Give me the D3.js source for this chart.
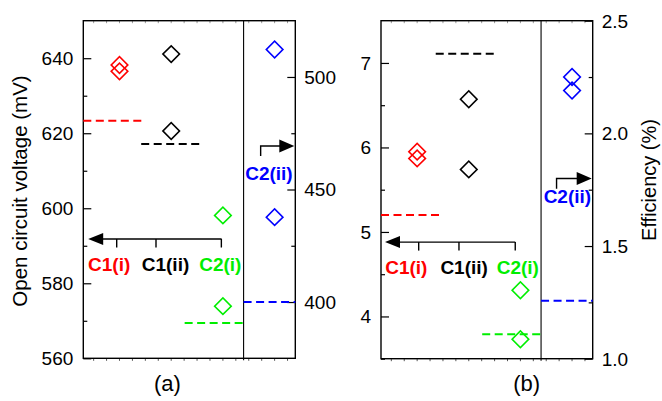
<!DOCTYPE html>
<html>
<head>
<meta charset="utf-8">
<script src="https://cdn.jsdelivr.net/npm/d3@7"></script>
<style>
  html, body { margin: 0; padding: 0; background: #fff; }
  svg { display: block; }
  text { font-family: "Liberation Sans", Arial, sans-serif; }
</style>
</head>
<body>
<svg id="chart" width="662" height="401"></svg>
<script>
const categories = ["C1(i)", "C1(ii)", "C2(i)", "C2(ii)"];
const colors = ["#ff0000", "#000000", "#00ee00", "#0000ff"];

// (a) open circuit voltage, two devices per group (mV)
const vocC1i = [638.2, 636.5];
const vocC1ii = [641.1, 620.6];
const vocC2i = [598.1, 573.9];
const vocC2ii = [512.2, 437.7];       // right axis
// (a) reference levels (dashed), one per group
const vocRef = [623.3, 617.1, 569.4, 400];

// (b) efficiency, two devices per group (%)
const effC1i = [5.95, 5.87];
const effC1ii = [6.57, 5.74];
const effC2i = [4.31, 3.73];
const effC2ii = [2.25, 2.19];         // right axis
// (b) reference levels (dashed)
const effRef = [5.2, 7.11, 3.79, 1.257];

// Axis ticks
const vocLeftTicks = [560, 580, 600, 620, 640];
const vocRightTicks = [400, 450, 500];
const effLeftTicks = [4, 5, 6, 7];
const effRightTicks = ["1.0", "1.5", "2.0", "2.5"];

const svg = d3.select("#chart");
const FONT = 19;

function drawPanel(cfg) {
  const g = svg.append("g");
  const x = d3.scaleLinear().domain([0.3, 4.4]).range([cfg.left, cfg.right]);
  const yL = d3.scaleLinear().domain(cfg.leftDomain).range([cfg.bottom, cfg.top]);
  const yR = d3.scaleLinear().domain(cfg.rightDomain).range([cfg.bottom, cfg.top]);

  // minor ticks along top and bottom edges
  const xMinor = d3.range(0.5, 4.3, 0.25);
  g.selectAll(".xb").data(xMinor).join("line")
    .attr("x1", d => x(d)).attr("x2", d => x(d))
    .attr("y1", cfg.bottom).attr("y2", cfg.bottom + 2.5)
    .attr("stroke", "#555").attr("stroke-width", 1);
  g.selectAll(".xt").data(xMinor).join("line")
    .attr("x1", d => x(d)).attr("x2", d => x(d))
    .attr("y1", cfg.top).attr("y2", cfg.top + 2.5)
    .attr("stroke", "#999").attr("stroke-width", 1);

  // left axis (ticks inward)
  g.append("g").attr("transform", `translate(${cfg.left},0)`)
    .call(d3.axisRight(yL).tickValues(cfg.leftMajor).tickSize(8).tickFormat(""))
    .call(a => a.select(".domain").remove())
    .call(a => a.selectAll("line").attr("stroke", "#000").attr("stroke-width", 1.2));
  g.append("g").attr("transform", `translate(${cfg.left},0)`)
    .call(d3.axisRight(yL).tickValues(cfg.leftMinor).tickSize(4).tickFormat(""))
    .call(a => a.select(".domain").remove())
    .call(a => a.selectAll("line").attr("stroke", "#000").attr("stroke-width", 1.2));
  g.selectAll(".ll").data(cfg.leftMajor).join("text")
    .attr("x", cfg.left - 10).attr("y", d => yL(d))
    .attr("dy", "0.36em").attr("text-anchor", "end")
    .attr("font-size", FONT).text(d => d);

  // right axis (ticks inward)
  g.append("g").attr("transform", `translate(${cfg.right},0)`)
    .call(d3.axisLeft(yR).tickValues(cfg.rightMajor).tickSize(8).tickFormat(""))
    .call(a => a.select(".domain").remove())
    .call(a => a.selectAll("line").attr("stroke", "#000").attr("stroke-width", 1.2));
  g.append("g").attr("transform", `translate(${cfg.right},0)`)
    .call(d3.axisLeft(yR).tickValues(cfg.rightMinor).tickSize(4).tickFormat(""))
    .call(a => a.select(".domain").remove())
    .call(a => a.selectAll("line").attr("stroke", "#000").attr("stroke-width", 1.2));
  g.selectAll(".rl").data(cfg.rightLabels).join("text")
    .attr("x", cfg.right + 9).attr("y", d => yR(+d))
    .attr("dy", "0.36em").attr("text-anchor", "start")
    .attr("font-size", FONT).text(d => d);

  // frame and divider
  g.append("rect")
    .attr("x", cfg.left).attr("y", cfg.top)
    .attr("width", cfg.right - cfg.left).attr("height", cfg.bottom - cfg.top)
    .attr("fill", "none").attr("stroke", "#000").attr("stroke-width", 1.4);
  g.append("line")
    .attr("x1", x(3.4)).attr("x2", x(3.4))
    .attr("y1", cfg.top).attr("y2", cfg.bottom + 2)
    .attr("stroke", "#000").attr("stroke-width", 1.1);

  // dashed reference levels
  const refs = cfg.ref.map((v, i) => ({ v, i, x0: cfg.refX[i][0], x1: cfg.refX[i][1] }));
  g.selectAll(".ref").data(refs).join("line")
    .attr("x1", d => x(d.x0)).attr("x2", d => x(d.x1))
    .attr("y1", d => (d.i === 3 ? yR : yL)(d.v))
    .attr("y2", d => (d.i === 3 ? yR : yL)(d.v))
    .attr("stroke", d => colors[d.i]).attr("stroke-width", 2)
    .attr("stroke-dasharray", "8,4.5");

  // diamonds
  const pts = [];
  cfg.series.forEach((vals, i) => vals.forEach(v => pts.push({ i, v })));
  const sym = d3.symbol().type(d3.symbolSquare).size(138);
  g.selectAll(".pt").data(pts).join("path")
    .attr("d", sym)
    .attr("transform", d => `translate(${x(d.i + 1)},${(d.i === 3 ? yR : yL)(d.v)}) rotate(45)`)
    .attr("fill", "none").attr("stroke", d => colors[d.i]).attr("stroke-width", 1.6);

  // left-pointing bracket arrow for groups on the left axis
  const ay = yL(cfg.arrowY);
  g.append("line")
    .attr("x1", x(cfg.arrowX[1])).attr("x2", x(cfg.arrowX[0]) + 10)
    .attr("y1", ay).attr("y2", ay)
    .attr("stroke", "#000").attr("stroke-width", 1.4);
  g.append("path")
    .attr("d", `M${x(cfg.arrowX[0])},${ay} l15,-6 l0,12 z`)
    .attr("fill", "#000");
  g.selectAll(".at").data(cfg.arrowTicks).join("line")
    .attr("x1", d => x(d)).attr("x2", d => x(d))
    .attr("y1", ay).attr("y2", ay + 8.5)
    .attr("stroke", "#000").attr("stroke-width", 1.4);
  g.selectAll(".gl").data(categories.slice(0, 3)).join("text")
    .attr("x", (d, i) => x(cfg.labelX[i])).attr("y", yL(cfg.labelY))
    .attr("text-anchor", "middle").attr("font-size", FONT).attr("font-weight", "bold")
    .attr("fill", (d, i) => colors[i]).text(d => d);

  // right-pointing arrow for the group on the right axis
  const bx = x(cfg.blueArrow.x);
  const by0 = yR(cfg.blueArrow.y0), by1 = yR(cfg.blueArrow.y1);
  g.append("path")
    .attr("d", `M${bx},${by0} L${bx},${by1} L${cfg.right - 13},${by1}`)
    .attr("fill", "none").attr("stroke", "#000").attr("stroke-width", 1.4);
  g.append("path")
    .attr("d", `M${cfg.right - 1},${by1} l-15,-6.5 l0,13 z`)
    .attr("fill", "#000");
  g.append("text")
    .attr("x", x(cfg.blueLabel.x)).attr("y", yR(cfg.blueLabel.y))
    .attr("text-anchor", "middle").attr("font-size", FONT).attr("font-weight", "bold")
    .attr("fill", colors[3]).text(categories[3]);

  // panel tag
  g.append("text")
    .attr("x", (cfg.left + cfg.right) / 2 + cfg.tagDx).attr("y", 391)
    .attr("text-anchor", "middle").attr("font-size", 22).text(cfg.tag);
}

drawPanel({
  left: 83.3, right: 295.3, top: 20.7, bottom: 358.3,
  leftDomain: [560, 650], rightDomain: [375, 525],
  leftMajor: vocLeftTicks, leftMinor: [570, 590, 610, 630],
  rightMajor: vocRightTicks, rightMinor: [425, 475], rightLabels: vocRightTicks.map(String),
  series: [vocC1i, vocC1ii, vocC2i, vocC2ii],
  ref: vocRef, refX: [[0.3, 1.5], [1.42, 2.62], [2.26, 3.4], [3.4, 4.4]],
  arrowY: 591.8, arrowX: [0.395, 2.975], arrowTicks: [0.946, 1.706, 2.97],
  labelX: [0.80, 1.89, 2.95], labelY: 583.4,
  blueArrow: { x: 3.73, y0: 464.9, y1: 469.3 }, blueLabel: { x: 3.89, y: 454 },
  tag: "(a)", tagDx: -21.8
});

drawPanel({
  left: 381, right: 592.7, top: 20.7, bottom: 358.7,
  leftDomain: [3.5, 7.5], rightDomain: [1.0, 2.5],
  leftMajor: effLeftTicks, leftMinor: [3.5, 4.5, 5.5, 6.5],
  rightMajor: effRightTicks.map(Number), rightMinor: [1.25, 1.75, 2.25], rightLabels: effRightTicks,
  series: [effC1i, effC1ii, effC2i, effC2ii],
  ref: effRef, refX: [[0.3, 1.5], [1.36, 2.5], [2.26, 3.4], [3.4, 4.4]],
  arrowY: 4.88, arrowX: [0.377, 2.90], arrowTicks: [1.03, 1.81, 2.90],
  labelX: [0.79, 1.91, 2.95], labelY: 4.50,
  blueArrow: { x: 3.70, y0: 1.754, y1: 1.80 }, blueLabel: { x: 3.91, y: 1.693 },
  tag: "(b)", tagDx: 39.8
});

// axis titles
svg.append("text")
  .attr("transform", "translate(27,191) rotate(-90)")
  .attr("text-anchor", "middle").attr("font-size", 20.5)
  .text("Open circuit voltage (mV)");
svg.append("text")
  .attr("transform", "translate(656,180) rotate(-90)")
  .attr("text-anchor", "middle").attr("font-size", 20)
  .text("Efficiency (%)");
</script>
</body>
</html>
